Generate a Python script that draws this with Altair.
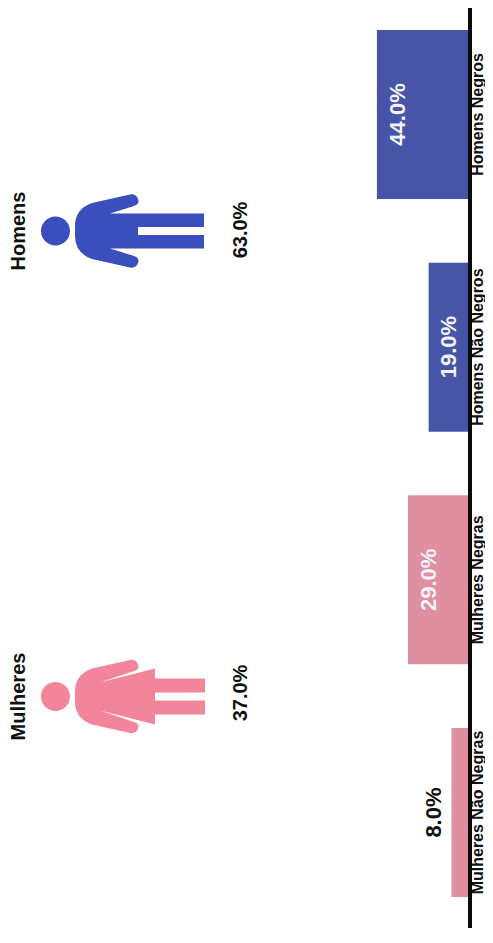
import altair as alt
import pandas as pd

categories = ["Homens Negros", "Homens Não Negros", "Mulheres Negras", "Mulheres Não Negras"]
values = [44.0, 19.0, 29.0, 8.0]
bar_groups = ["Homens", "Homens", "Mulheres", "Mulheres"]
groups = ["Homens", "Mulheres"]
shares = [63.0, 37.0]

BAR_COLORS = ["#4655a8", "#e08fa1"]
ICON_COLORS = ["#3a4fbd", "#f2859a"]
FONT = "Liberation Sans"

ARMS_TOP = "Q18,-27 16,-32 Q14,-37.5 8,-36.5 L-30,-28 Q-47,-22 -47,-5 L-47,5 Q-47,22 -30,28 L8,36.5 Q14,37.5 16,32 Q18,27 "
HEAD = "M-81,0 A14.5,14.5 0 1 0 -52,0 A14.5,14.5 0 1 0 -81,0 Z"
MAN = ("M82,-17.5 L-12,-17.5 L12,-25 " + ARMS_TOP +
       "12,25 L-12,17.5 L82,17.5 L82,3.9 L16,3.9 L16,-3.9 L82,-3.9 Z " + HEAD)
WOMAN = ("M83,-18 L33,-18 L33,-28 L-22,-14 L12,-25.5 " + ARMS_TOP +
         "12,25.5 L-22,14 L33,28 L33,18 L83,18 L83,4 L33,4 L33,-4 L83,-4 Z " + HEAD)

bars = pd.DataFrame({"cat": categories, "value": values, "group": bar_groups})
bars["label"] = [f"{v:.1f}%" for v in values]
tops = pd.DataFrame({"group": groups, "share": shares})
tops["label"] = [f"{v:.1f}%" for v in shares]

x_scale = alt.Scale(domain=[0, 222.2], range=[460, 0])
y_band = alt.Scale(type="band", domain=categories, range=[22, 889], paddingInner=0.274, paddingOuter=0)
y_group = alt.Scale(type="point", domain=groups, range=[223, 688.5], padding=0)
y_share = alt.Scale(type="point", domain=groups, range=[222, 685], padding=0)
Y = alt.Y("cat:N", scale=y_band, axis=None)
G = alt.Y("group:N", scale=y_group, axis=None)

bar_layer = alt.Chart(bars).mark_bar(size=169).encode(
    x=alt.X("value:Q", scale=x_scale, axis=None),
    x2=alt.datum(0),
    y=Y,
    color=alt.Color("group:N", scale=alt.Scale(domain=groups, range=BAR_COLORS), legend=None),
)

inside = alt.Chart(bars).transform_filter("datum.value >= 10").transform_calculate(pos="datum.value - 10").mark_text(
    angle=270, align="center", baseline="middle", font=FONT, fontWeight="bold", fontSize=22, color="#f4f4f8"
).encode(x=alt.X("pos:Q", scale=x_scale, axis=None), y=Y, text="label:N")

outside = alt.Chart(bars).transform_filter("datum.value < 10").transform_calculate(pos="datum.value + 8.5").mark_text(
    angle=270, align="center", baseline="middle", font=FONT, fontWeight="bold", fontSize=22, color="#111111"
).encode(x=alt.X("pos:Q", scale=x_scale, axis=None), y=Y, text="label:N")

cat_labels = alt.Chart(bars).mark_text(
    angle=270, align="center", baseline="middle", font=FONT, fontWeight="bold", fontSize=16, color="#111111"
).encode(x=alt.value(469.5), y=Y, text="cat:N")

axis_line = alt.Chart(bars).mark_rule(color="#0a0a0a", strokeWidth=4).encode(
    x=alt.value(462), y=alt.value(0), y2=alt.value(920)
)

titles = alt.Chart(tops).mark_text(
    angle=270, align="center", baseline="middle", font=FONT, fontWeight="bold", fontSize=20, color="#111111"
).encode(x=alt.value(11), y=G, text="group:N")

share_labels = alt.Chart(tops).mark_text(
    angle=270, align="center", baseline="middle", font=FONT, fontWeight="bold", fontSize=20, color="#111111"
).encode(x=alt.value(233), y=alt.Y("group:N", scale=y_share, axis=None), text="label:N")

def icon(name, path, color):
    return alt.Chart(tops).transform_filter(alt.datum.group == name).mark_point(
        shape=path, size=4, filled=True, opacity=1, color=color, strokeWidth=0
    ).encode(x=alt.value(114), y=G)

chart = alt.layer(
    bar_layer, inside, outside, cat_labels, axis_line, titles, share_labels,
    icon("Homens", MAN, ICON_COLORS[0]), icon("Mulheres", WOMAN, ICON_COLORS[1]),
).resolve_scale(y="independent", color="independent").properties(
    width=477, height=922, padding=0, autosize=alt.AutoSizeParams(type="none"), background="white"
).configure_view(stroke=None)

chart.save("out.html", embed_options={"renderer": "svg", "actions": False})
